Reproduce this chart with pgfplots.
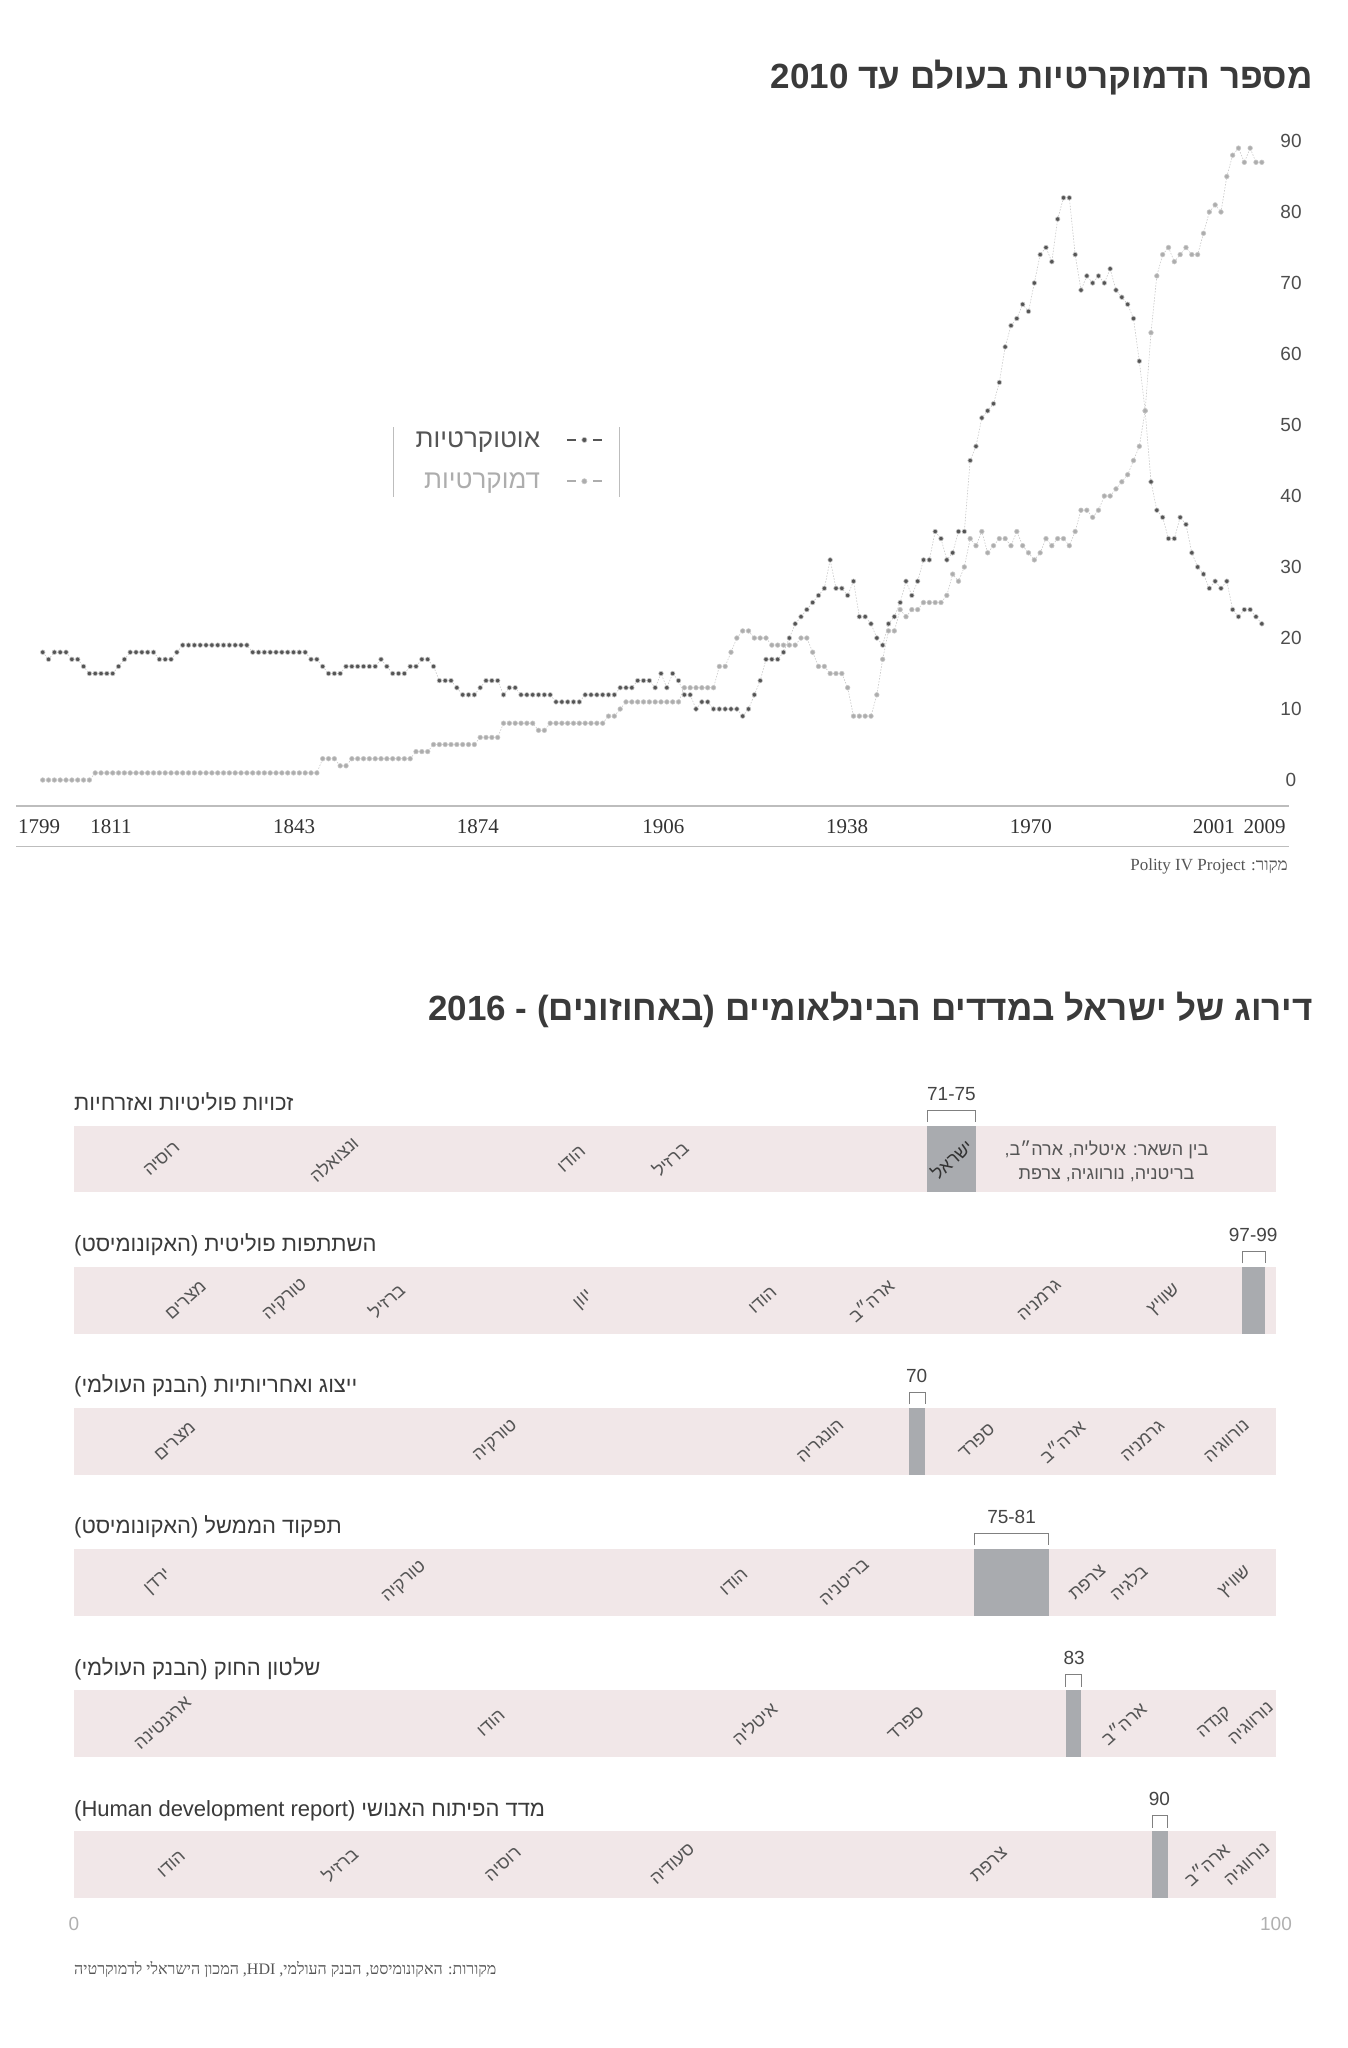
\documentclass[border=0pt]{standalone}
\usepackage{fontspec}
\setmainfont{Liberation Sans}
\newfontfamily\heb[Script=Hebrew]{Liberation Sans}
\newfontfamily\hebserif[Script=Hebrew]{Liberation Serif}
\newfontfamily\numserif{Liberation Serif}
\usepackage{pgfplots}
\usepackage{pgfplotstable}
\pgfplotsset{compat=1.18}
\TeXXeTstate=1
\newcommand\fs[1]{\fontsize{#1}{#1}\selectfont}
\newcommand\RL[1]{\beginR #1\endR}

\definecolor{autcol}{HTML}{555555}
\definecolor{demcol}{HTML}{ADADAD}
\definecolor{linkcol}{HTML}{C8C8C8}
\definecolor{rulecol}{HTML}{BDBDBD}
\definecolor{yearcol}{HTML}{333333}
\definecolor{numcol}{HTML}{4D4D4D}
\definecolor{titlecol}{HTML}{3A3A3A}
\definecolor{srccol}{HTML}{555555}
\definecolor{bandcol}{HTML}{F1E7E8}
\definecolor{barcol}{HTML}{A9ABAF}
\definecolor{brkcol}{HTML}{808080}
\definecolor{labcol}{HTML}{555555}
\definecolor{rngcol}{HTML}{444444}
\definecolor{zerocol}{HTML}{B0B0B0}

% number of autocracies / democracies per year (Polity IV)
\pgfplotstableread[row sep=\\]{
year aut dem\\
1799 18 0\\ 1800 17 0\\ 1801 18 0\\ 1802 18 0\\ 1803 18 0\\ 1804 17 0\\ 1805 17 0\\ 1806 16 0\\ 1807 15 0\\
1808 15 1\\ 1809 15 1\\ 1810 15 1\\ 1811 15 1\\ 1812 16 1\\ 1813 17 1\\ 1814 18 1\\ 1815 18 1\\ 1816 18 1\\
1817 18 1\\ 1818 18 1\\ 1819 17 1\\ 1820 17 1\\ 1821 17 1\\ 1822 18 1\\ 1823 19 1\\ 1824 19 1\\ 1825 19 1\\
1826 19 1\\ 1827 19 1\\ 1828 19 1\\ 1829 19 1\\ 1830 19 1\\ 1831 19 1\\ 1832 19 1\\ 1833 19 1\\ 1834 19 1\\
1835 18 1\\ 1836 18 1\\ 1837 18 1\\ 1838 18 1\\ 1839 18 1\\ 1840 18 1\\ 1841 18 1\\ 1842 18 1\\ 1843 18 1\\
1844 18 1\\ 1845 17 1\\ 1846 17 1\\ 1847 16 3\\ 1848 15 3\\ 1849 15 3\\ 1850 15 2\\ 1851 16 2\\ 1852 16 3\\
1853 16 3\\ 1854 16 3\\ 1855 16 3\\ 1856 16 3\\ 1857 17 3\\ 1858 16 3\\ 1859 15 3\\ 1860 15 3\\ 1861 15 3\\
1862 16 3\\ 1863 16 4\\ 1864 17 4\\ 1865 17 4\\ 1866 16 5\\ 1867 14 5\\ 1868 14 5\\ 1869 14 5\\ 1870 13 5\\
1871 12 5\\ 1872 12 5\\ 1873 12 5\\ 1874 13 6\\ 1875 14 6\\ 1876 14 6\\ 1877 14 6\\ 1878 12 8\\ 1879 13 8\\
1880 13 8\\ 1881 12 8\\ 1882 12 8\\ 1883 12 8\\ 1884 12 7\\ 1885 12 7\\ 1886 12 8\\ 1887 11 8\\ 1888 11 8\\
1889 11 8\\ 1890 11 8\\ 1891 11 8\\ 1892 12 8\\ 1893 12 8\\ 1894 12 8\\ 1895 12 8\\ 1896 12 9\\ 1897 12 9\\
1898 13 10\\ 1899 13 11\\ 1900 13 11\\ 1901 14 11\\ 1902 14 11\\ 1903 14 11\\ 1904 13 11\\ 1905 15 11\\
1906 13 11\\ 1907 15 11\\ 1908 14 11\\ 1909 12 13\\ 1910 12 13\\ 1911 10 13\\ 1912 11 13\\ 1913 11 13\\
1914 10 13\\ 1915 10 16\\ 1916 10 16\\ 1917 10 18\\ 1918 10 20\\ 1919 9 21\\ 1920 10 21\\ 1921 12 20\\
1922 14 20\\ 1923 17 20\\ 1924 17 19\\ 1925 17 19\\ 1926 18 19\\ 1927 20 19\\ 1928 22 19\\ 1929 23 20\\
1930 24 20\\ 1931 25 18\\ 1932 26 16\\ 1933 27 16\\ 1934 31 15\\ 1935 27 15\\ 1936 27 15\\ 1937 26 13\\
1938 28 9\\ 1939 23 9\\ 1940 23 9\\ 1941 22 9\\ 1942 20 12\\ 1943 19 17\\ 1944 22 21\\ 1945 23 21\\
1946 25 24\\ 1947 28 23\\ 1948 26 24\\ 1949 28 24\\ 1950 31 25\\ 1951 31 25\\ 1952 35 25\\ 1953 34 25\\
1954 31 26\\ 1955 32 29\\ 1956 35 28\\ 1957 35 30\\ 1958 45 34\\ 1959 47 33\\ 1960 51 35\\ 1961 52 32\\
1962 53 33\\ 1963 56 34\\ 1964 61 34\\ 1965 64 33\\ 1966 65 35\\ 1967 67 33\\ 1968 66 32\\ 1969 70 31\\
1970 74 32\\ 1971 75 34\\ 1972 73 33\\ 1973 79 34\\ 1974 82 34\\ 1975 82 33\\ 1976 74 35\\ 1977 69 38\\
1978 71 38\\ 1979 70 37\\ 1980 71 38\\ 1981 70 40\\ 1982 72 40\\ 1983 69 41\\ 1984 68 42\\ 1985 67 43\\
1986 65 45\\ 1987 59 47\\ 1988 52 52\\ 1989 42 63\\ 1990 38 71\\ 1991 37 74\\ 1992 34 75\\ 1993 34 73\\
1994 37 74\\ 1995 36 75\\ 1996 32 74\\ 1997 30 74\\ 1998 29 77\\ 1999 27 80\\ 2000 28 81\\ 2001 27 80\\
2002 28 85\\ 2003 24 88\\ 2004 23 89\\ 2005 24 87\\ 2006 24 89\\ 2007 23 87\\ 2008 22 87\\
}\polity

\pgfplotsset{
  dotline/.style={draw=linkcol, line width=0.6pt, dash pattern=on 1.5pt off 1.5pt,
    mark=*, mark size=2.3pt},
  autleg/.style={legend image code/.code={
    \draw[solid, autcol, line width=1.6pt] (0pt,0pt) -- (9pt,0pt) (26pt,0pt) -- (35pt,0pt);
    \draw[solid, mark=*, mark size=2.6pt, mark options={draw=none, fill=autcol}]
      plot coordinates {(17.5pt,0pt)};}},
  demleg/.style={legend image code/.code={
    \draw[solid, demcol, line width=1.6pt] (0pt,0pt) -- (9pt,0pt) (26pt,0pt) -- (35pt,0pt);
    \draw[solid, mark=*, mark size=2.6pt, mark options={draw=none, fill=demcol}]
      plot coordinates {(17.5pt,0pt)};}},
  rowaxis/.style={anchor=north west, scale only axis, width=1202pt, height=66.7pt,
    xmin=0, xmax=100, ymin=0, ymax=1, axis lines=none, xtick=\empty, ytick=\empty,
    clip=false},
}
\tikzset{
  lab/.style={font=\heb\fs{18}, text=labcol, rotate=42, inner sep=0pt},
  rowtitle/.style={anchor=base west, font=\heb\fs{22}, text=titlecol, inner sep=0pt},
  rng/.style={font=\fs{19}, text=rngcol, inner sep=0pt},
  band/.style={fill=bandcol, draw=none},
  isr/.style={fill=barcol, draw=none},
  brk/.style={draw=brkcol, line width=1pt},
}

\begin{document}
\begin{tikzpicture}
\useasboundingbox (0pt,0pt) rectangle (1347pt,-2048pt);

% ---- chart 1: number of democracies ----
\node[anchor=base east, font=\heb\bfseries\fs{35}, text=titlecol, inner sep=0pt]
  at (1313pt,-88pt) {\RL{מספר הדמוקרטיות בעולם עד \beginL 2010\endL}};

\begin{axis}[
  at={(16pt,-806pt)}, anchor=south west,
  scale only axis, width=1273pt, height=679.2pt,
  xmin=1794.42, xmax=2012.66, ymin=-3.66, ymax=92,
  axis x line*=bottom, axis y line*=right,
  x axis line style={draw=rulecol, line width=1.4pt},
  y axis line style={draw=none},
  major tick length=0pt,
  xtick={1798.4,1810.7,1842.1,1873.6,1905.4,1936.9,1968.4,1999.8,2008.5},
  xticklabels={1799,1811,1843,1874,1906,1938,1970,2001,2009},
  ytick={0,10,...,90},
  /pgf/number format/assume math mode=true,
  xticklabel style={font=\numserif\fs{21}, text=yearcol, anchor=center, yshift=-20.7pt},
  yticklabel style={font=\fs{19}, text=numcol, anchor=center, xshift=2pt},
  legend plot pos=right,
  legend cell align=right,
  legend style={at={(axis description cs:0.461,0.555)}, anchor=north east,
    draw=none, fill=none, font=\heb\fs{26}, inner sep=0pt, row sep=20pt,
    /tikz/every odd column/.append style={column sep=24pt}},
  clip=false,
]
\addplot[dotline, mark options={solid, draw=none, fill=autcol}, autleg]
  table[x=year, y=aut] {\polity};
\addlegendentry{\textcolor{autcol}{\RL{אוטוקרטיות}}}
\addplot[dotline, mark options={solid, draw=none, fill=demcol}, demleg]
  table[x=year, y=dem] {\polity};
\addlegendentry{\textcolor{demcol}{\RL{דמוקרטיות}}}
\end{axis}

\draw[rulecol, line width=1.4pt] (16pt,-846.7pt) -- (1289pt,-846.7pt);
\draw[rulecol, line width=1pt] (393pt,-427pt) -- (393pt,-497pt);
\draw[rulecol, line width=1pt] (619pt,-427pt) -- (619pt,-497pt);

\node[anchor=base east, font=\hebserif\fs{17}, text=srccol, inner sep=0pt]
  at (1288pt,-870pt) {\RL{מקור: \beginL Polity IV Project\endL}};

% ---- chart 2: Israel's ranking ----
\node[anchor=base east, font=\heb\bfseries\fs{35}, text=titlecol, inner sep=0pt]
  at (1313pt,-1020pt)
  {\RL{דירוג של ישראל במדדים הבינלאומיים (באחוזונים) - \beginL 2016\endL}};

% row 1
\begin{axis}[rowaxis, at={(74pt,-1125.7pt)}]
\addplot[band] coordinates {(0,0) (100,0) (100,1) (0,1)} --cycle;
\addplot[isr] coordinates {(71,0) (75,0) (75,1) (71,1)} --cycle;
\addplot[brk] coordinates {(71,1.052) (71,1.232) (75,1.232) (75,1.052)};
\node[rng] at (axis cs:73,1.48) {71-75};
\node[rowtitle] at (axis cs:0,1.225) {\RL{זכויות פוליטיות ואזרחיות}};
\node[lab] at (axis cs:7.3,0.5) {\RL{רוסיה}};
\node[lab] at (axis cs:21.6,0.5) {\RL{ונצואלה}};
\node[lab] at (axis cs:41.4,0.5) {\RL{הודו}};
\node[lab] at (axis cs:49.6,0.5) {\RL{ברזיל}};
\node[lab, text=yearcol] at (axis cs:73,0.5) {\RL{ישראל}};
\node[font=\heb\fs{18}, text=labcol, align=center, inner sep=0pt]
  at (axis cs:85.9,0.47) {\RL{בין השאר: איטליה, ארה״ב,}\\[6pt]\RL{בריטניה, נורווגיה, צרפת}};
\end{axis}

% row 2
\begin{axis}[rowaxis, at={(74pt,-1266.8pt)}]
\addplot[band] coordinates {(0,0) (100,0) (100,1) (0,1)} --cycle;
\addplot[isr] coordinates {(97.2,0) (99.1,0) (99.1,1) (97.2,1)} --cycle;
\addplot[brk] coordinates {(97.2,1.052) (97.2,1.232) (99.1,1.232) (99.1,1.052)};
\node[rng] at (axis cs:98.1,1.48) {97-99};
\node[rowtitle] at (axis cs:0,1.225) {\RL{השתתפות פוליטית (האקונומיסט)}};
\node[lab] at (axis cs:9.3,0.5) {\RL{מצרים}};
\node[lab] at (axis cs:17.6,0.5) {\RL{טורקיה}};
\node[lab] at (axis cs:26.0,0.5) {\RL{ברזיל}};
\node[lab] at (axis cs:42.4,0.5) {\RL{יוון}};
\node[lab] at (axis cs:57.3,0.5) {\RL{הודו}};
\node[lab] at (axis cs:66.3,0.5) {\RL{ארה״ב}};
\node[lab] at (axis cs:80.3,0.5) {\RL{גרמניה}};
\node[lab] at (axis cs:90.7,0.5) {\RL{שוויץ}};
\end{axis}

% row 3
\begin{axis}[rowaxis, at={(74pt,-1407.8pt)}]
\addplot[band] coordinates {(0,0) (100,0) (100,1) (0,1)} --cycle;
\addplot[isr] coordinates {(69.5,0) (70.8,0) (70.8,1) (69.5,1)} --cycle;
\addplot[brk] coordinates {(69.5,1.052) (69.5,1.232) (70.8,1.232) (70.8,1.052)};
\node[rng] at (axis cs:70.1,1.48) {70};
\node[rowtitle] at (axis cs:0,1.225) {\RL{ייצוג ואחריותיות (הבנק העולמי)}};
\node[lab] at (axis cs:8.4,0.5) {\RL{מצרים}};
\node[lab] at (axis cs:35.1,0.5) {\RL{טורקיה}};
\node[lab] at (axis cs:62.1,0.5) {\RL{הונגריה}};
\node[lab] at (axis cs:75.1,0.5) {\RL{ספרד}};
\node[lab] at (axis cs:82.2,0.5) {\RL{ארה״ב}};
\node[lab] at (axis cs:88.9,0.5) {\RL{גרמניה}};
\node[lab] at (axis cs:95.9,0.5) {\RL{נורווגיה}};
\end{axis}

% row 4
\begin{axis}[rowaxis, at={(74pt,-1548.9pt)}]
\addplot[band] coordinates {(0,0) (100,0) (100,1) (0,1)} --cycle;
\addplot[isr] coordinates {(74.9,0) (81.1,0) (81.1,1) (74.9,1)} --cycle;
\addplot[brk] coordinates {(74.9,1.052) (74.9,1.232) (81.1,1.232) (81.1,1.052)};
\node[rng] at (axis cs:78,1.48) {75-81};
\node[rowtitle] at (axis cs:0,1.225) {\RL{תפקוד הממשל (האקונומיסט)}};
\node[lab] at (axis cs:7.0,0.5) {\RL{ירדן}};
\node[lab] at (axis cs:27.5,0.5) {\RL{טורקיה}};
\node[lab] at (axis cs:54.9,0.5) {\RL{הודו}};
\node[lab] at (axis cs:64.1,0.5) {\RL{בריטניה}};
\node[lab] at (axis cs:84.3,0.5) {\RL{צרפת}};
\node[lab] at (axis cs:87.7,0.5) {\RL{בלגיה}};
\node[lab] at (axis cs:96.6,0.5) {\RL{שוויץ}};
\end{axis}

% row 5
\begin{axis}[rowaxis, at={(74pt,-1690pt)}]
\addplot[band] coordinates {(0,0) (100,0) (100,1) (0,1)} --cycle;
\addplot[isr] coordinates {(82.5,0) (83.8,0) (83.8,1) (82.5,1)} --cycle;
\addplot[brk] coordinates {(82.5,1.052) (82.5,1.232) (83.8,1.232) (83.8,1.052)};
\node[rng] at (axis cs:83.2,1.48) {83};
\node[rowtitle] at (axis cs:0,1.225) {\RL{שלטון החוק (הבנק העולמי)}};
\node[lab] at (axis cs:7.4,0.5) {\RL{ארגנטינה}};
\node[lab] at (axis cs:34.7,0.5) {\RL{הודו}};
\node[lab] at (axis cs:56.6,0.5) {\RL{איטליה}};
\node[lab] at (axis cs:69.2,0.5) {\RL{ספרד}};
\node[lab] at (axis cs:87.3,0.5) {\RL{ארה״ב}};
\node[lab] at (axis cs:94.9,0.5) {\RL{קנדה}};
\node[lab] at (axis cs:97.9,0.5) {\RL{נורווגיה}};
\end{axis}

% row 6
\begin{axis}[rowaxis, at={(74pt,-1831pt)}]
\addplot[band] coordinates {(0,0) (100,0) (100,1) (0,1)} --cycle;
\addplot[isr] coordinates {(89.7,0) (91.0,0) (91.0,1) (89.7,1)} --cycle;
\addplot[brk] coordinates {(89.7,1.052) (89.7,1.232) (91.0,1.232) (91.0,1.052)};
\node[rng] at (axis cs:90.3,1.48) {90};
\node[rowtitle] at (axis cs:0,1.225)
  {\RL{מדד הפיתוח האנושי (\beginL Human development report\endL)}};
\node[lab] at (axis cs:8.1,0.5) {\RL{הודו}};
\node[lab] at (axis cs:22.1,0.5) {\RL{ברזיל}};
\node[lab] at (axis cs:35.7,0.5) {\RL{רוסיה}};
\node[lab] at (axis cs:49.8,0.5) {\RL{סעודיה}};
\node[lab] at (axis cs:76.1,0.5) {\RL{צרפת}};
\node[lab] at (axis cs:94.2,0.5) {\RL{ארה״ב}};
\node[lab] at (axis cs:97.6,0.5) {\RL{נורווגיה}};
\end{axis}

\node[font=\fs{19}, text=zerocol] at (74pt,-1924pt) {0};
\node[font=\fs{19}, text=zerocol] at (1276pt,-1924pt) {100};

\node[anchor=base west, font=\hebserif\fs{16}, text=srccol, inner sep=0pt]
  at (74pt,-1974pt)
  {\RL{מקורות: האקונומיסט, הבנק העולמי, \beginL HDI\endL, המכון הישראלי לדמוקרטיה}};
\end{tikzpicture}
\end{document}
